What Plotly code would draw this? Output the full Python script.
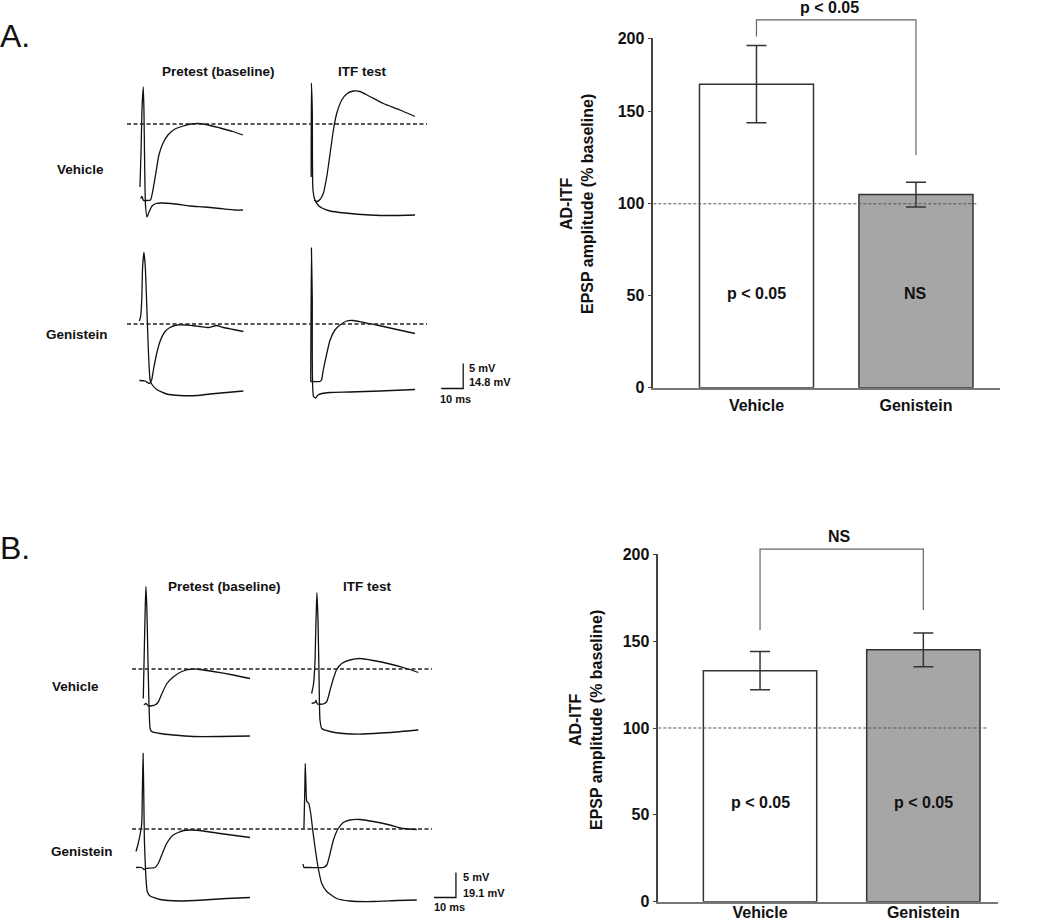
import plotly.graph_objects as go

W, H = 1050, 920
PX_PER_MS = 2.2   # horizontal scale of the traces (10 ms bar = 22 px)
PX_PER_MV = 5.0   # vertical scale of the traces (5 mV bar = 25 px)
FONT = "Liberation Sans, Arial, sans-serif"

# ----------------------------- data -----------------------------
# voltages are in mV relative to the dashed reference line, time in ms
# Panel A - Vehicle - Pretest
a_veh_pre_epsp_t = [1.2, 1.8, 2.5, 3.6, 5.7, 6.8, 8.2, 9.5, 11.4, 13.6, 16.8, 20.5, 24.1, 27.3, 30.9, 37.3, 43.2, 47.7]
a_veh_pre_epsp_v = [-14.9, -14.5, -15.3, -15.3, -15.2, -13.2, -9.6, -6.2, -3.8, -2.2, -1.0, -0.4, 0.0, 0.1, -0.1, -0.8, -1.5, -2.2]
a_veh_pre_spike_t = [0.9, 1.4, 1.8, 2.4, 2.7, 3.0, 3.4, 4.1, 5.0, 6.4, 8.2, 10.9, 16.8, 23.6, 30.5, 37.3, 44.1, 47.7]
a_veh_pre_spike_v = [-12.6, -5.2, 2.8, 7.4, 2.8, -7.2, -16.2, -18.6, -17.6, -16.4, -15.9, -15.8, -16.0, -16.4, -16.6, -16.9, -17.2, -17.2]
# Panel A - Vehicle - ITF test
a_veh_itf_epsp_t = [3.2, 4.5, 5.9, 7.4, 9.0, 10.5, 12.0, 13.5, 15.8, 18.0, 21.0, 24.1, 28.6, 34.7, 42.3, 49.1]
a_veh_itf_epsp_v = [-15.2, -15.5, -15.1, -13.9, -10.5, -5.9, -1.2, 2.1, 4.8, 6.0, 6.6, 6.5, 5.5, 4.1, 2.8, 1.5]
a_veh_itf_spike_t = [1.9, 2.0, 2.4, 2.7, 3.6, 5.0, 6.8, 10.5, 17.3, 28.6, 40.0, 49.1]
a_veh_itf_spike_v = [-10.6, 8.2, 2.8, -13.2, -15.2, -16.2, -16.8, -17.4, -17.8, -18.2, -18.3, -18.2]
# Panel A - Genistein - Pretest
a_gen_pre_epsp_t = [0.6, 3.2, 5.1, 6.2, 7.0, 8.5, 10.0, 12.3, 14.5, 17.6, 22.1, 28.2, 32.0, 35.8, 38.8, 43.3, 47.9]
a_gen_pre_epsp_v = [-11.3, -11.4, -11.9, -11.2, -9.2, -5.9, -3.5, -1.5, -0.7, -0.2, -0.2, -0.5, -0.7, -0.3, -0.7, -1.1, -1.5]
a_gen_pre_spike_t = [0.6, 1.2, 1.7, 2.1, 2.7, 3.3, 4.0, 4.7, 5.5, 6.2, 8.5, 13.0, 19.1, 26.7, 32.7, 40.3, 47.9]
a_gen_pre_spike_v = [0.6, 1.5, 4.8, 11.5, 14.3, 11.5, 3.5, -5.2, -11.2, -12.0, -13.1, -14.0, -14.3, -14.3, -14.0, -13.7, -13.4]
# Panel A - Genistein - ITF test
a_gen_itf_epsp_t = [1.7, 5.9, 6.6, 7.4, 9.0, 10.5, 12.7, 15.0, 18.0, 21.0, 25.6, 31.7, 40.8, 49.1]
a_gen_itf_epsp_v = [-11.5, -11.5, -11.2, -9.2, -5.9, -3.2, -1.2, -0.2, 0.6, 0.7, 0.3, -0.2, -1.1, -1.9]
a_gen_itf_spike_t = [1.7, 2.0, 2.4, 2.9, 3.9, 5.0, 6.8, 10.5, 19.5, 33.2, 49.1]
a_gen_itf_spike_v = [-11.5, 15.2, 4.8, -14.4, -14.8, -14.2, -13.9, -13.7, -13.6, -13.4, -13.1]
# Panel B - Vehicle - Pretest
b_veh_pre_epsp_t = [2.7, 3.6, 4.7, 7.7, 9.2, 10.8, 13.0, 16.0, 19.9, 24.4, 28.2, 34.2, 43.3, 50.9]
b_veh_pre_epsp_v = [-7.2, -6.9, -7.4, -7.2, -6.6, -5.0, -3.0, -1.6, -0.5, 0.0, -0.1, -0.5, -1.2, -1.9]
b_veh_pre_spike_t = [2.4, 2.9, 3.3, 3.6, 4.0, 4.4, 4.9, 5.5, 6.2, 10.0, 16.0, 25.1, 37.3, 50.9]
b_veh_pre_spike_v = [-5.9, 4.5, 12.5, 16.5, 12.5, 4.5, -5.5, -11.9, -12.5, -12.9, -13.2, -13.5, -13.5, -13.4]
# Panel B - Vehicle - ITF test
b_veh_itf_epsp_t = [2.1, 3.6, 4.1, 4.7, 7.4, 9.0, 10.5, 12.0, 13.5, 15.8, 19.5, 24.1, 30.1, 37.7, 45.3, 50.6]
b_veh_itf_epsp_v = [-6.9, -6.7, -6.3, -7.0, -7.0, -6.5, -4.2, -1.9, -0.1, 1.1, 1.8, 2.1, 1.7, 1.0, 0.1, -0.7]
b_veh_itf_spike_t = [2.1, 2.9, 3.6, 4.1, 4.5, 5.0, 5.5, 5.9, 6.7, 10.5, 16.5, 25.6, 37.7, 50.6]
b_veh_itf_spike_v = [-4.9, -3.2, 1.1, 9.8, 15.3, 9.8, -2.2, -10.2, -11.9, -12.5, -12.9, -13.0, -12.7, -12.2]
# Panel B - Genistein - Pretest
b_gen_pre_epsp_t = [-0.9, 1.7, 2.7, 3.6, 7.7, 9.2, 10.8, 13.0, 16.0, 20.6, 24.4, 29.7, 37.3, 50.9]
b_gen_pre_epsp_v = [-7.7, -7.7, -8.1, -7.9, -7.7, -6.9, -5.2, -2.9, -1.2, -0.3, -0.2, -0.4, -0.9, -1.7]
b_gen_pre_spike_t = [-0.9, 0.1, 1.2, 1.7, 2.0, 2.3, 2.6, 2.9, 3.5, 4.2, 5.5, 10.0, 19.1, 29.7, 40.3, 50.9]
b_gen_pre_spike_v = [-4.5, -2.9, -0.5, 1.1, 7.8, 15.1, 7.8, -2.2, -8.9, -12.5, -13.4, -14.1, -14.4, -14.2, -13.9, -13.7]
# Panel B - Genistein - ITF test
b_gen_itf_epsp_t = [-1.8, -1.4, -0.9, 1.4, 7.4, 9.0, 10.5, 12.0, 14.2, 16.5, 19.5, 24.1, 30.1, 37.7, 43.8, 49.9]
b_gen_itf_epsp_v = [-7.0, -7.7, -7.7, -7.7, -7.7, -7.2, -4.9, -2.2, 0.1, 1.3, 1.8, 1.9, 1.5, 0.8, 0.1, -0.1]
b_gen_itf_spike_t = [-1.4, -1.0, -0.8, -0.5, -0.1, 0.8, 1.7, 2.6, 3.6, 5.1, 6.7, 9.0, 13.5, 19.5, 30.1, 40.8, 49.9]
b_gen_itf_spike_v = [0.1, 7.8, 13.1, 9.1, 5.5, 5.1, 3.1, -0.2, -3.5, -7.8, -10.9, -12.5, -13.9, -14.4, -14.5, -14.3, -14.2]

# scale bars
scale_ms = 10
scale_mv = 5
a_scale_labels = ["5 mV", "14.8 mV", "10 ms"]
b_scale_labels = ["5 mV", "19.1 mV", "10 ms"]

# bar charts
bar_categories = ["Vehicle", "Genistein"]
a_bar_means = [165, 105]
a_bar_sem = [21, 6.7]
b_bar_means = [133, 145]
b_bar_sem = [11, 9.7]
a_bar_inner_labels = ["p < 0.05", "NS"]
b_bar_inner_labels = ["p < 0.05", "p < 0.05"]
a_bracket_label = "p < 0.05"
b_bracket_label = "NS"
a_ytick_vals = [0, 50, 100, 150, 190]
a_ytick_text = ["0", "50", "100", "150", "200"]
b_ytick_vals = [0, 50, 100, 150, 200]
b_ytick_text = ["0", "50", "100", "150", "200"]
baseline_pct = 100

# ----------------------------- layout helpers -----------------------------
def pxx(x):
    return x / W

def pxy(y):
    return 1 - y / H

fig = go.Figure()
layout = dict(
    width=W, height=H, margin=dict(l=0, r=0, t=0, b=0, autoexpand=False),
    paper_bgcolor="white", plot_bgcolor="rgba(0,0,0,0)", showlegend=False,
    font=dict(family=FONT, color="#111"),
)
shapes = []
annotations = []

def axn(i):
    return "" if i == 1 else str(i)

# cells: (id, x origin px, dashed-line px, t range, v range, epsp, spike)
cells = [
    (1, 138, 124, (-3, 55), (-20, 10), (a_veh_pre_epsp_t, a_veh_pre_epsp_v), (a_veh_pre_spike_t, a_veh_pre_spike_v)),
    (2, 307, 124, (-3, 80), (-20, 10), (a_veh_itf_epsp_t, a_veh_itf_epsp_v), (a_veh_itf_spike_t, a_veh_itf_spike_v)),
    (3, 138, 324, (-3, 55), (-16, 17), (a_gen_pre_epsp_t, a_gen_pre_epsp_v), (a_gen_pre_spike_t, a_gen_pre_spike_v)),
    (4, 307, 324, (-3, 80), (-16, 17), (a_gen_itf_epsp_t, a_gen_itf_epsp_v), (a_gen_itf_spike_t, a_gen_itf_spike_v)),
    (5, 138, 669, (-3, 55), (-15, 18), (b_veh_pre_epsp_t, b_veh_pre_epsp_v), (b_veh_pre_spike_t, b_veh_pre_spike_v)),
    (6, 307, 669, (-3, 80), (-15, 18), (b_veh_itf_epsp_t, b_veh_itf_epsp_v), (b_veh_itf_spike_t, b_veh_itf_spike_v)),
    (7, 138, 829, (-3, 55), (-17, 17), (b_gen_pre_epsp_t, b_gen_pre_epsp_v), (b_gen_pre_spike_t, b_gen_pre_spike_v)),
    (8, 307, 829, (-3, 80), (-17, 17), (b_gen_itf_epsp_t, b_gen_itf_epsp_v), (b_gen_itf_spike_t, b_gen_itf_spike_v)),
]

trace_line = dict(color="#111", width=1.3, shape="spline", smoothing=0.5)
for cid, x0, dash, tr, vr, epsp, spike in cells:
    n = axn(cid)
    layout["xaxis" + n] = dict(
        domain=[pxx(x0 + tr[0] * PX_PER_MS), pxx(x0 + tr[1] * PX_PER_MS)],
        range=list(tr), visible=False, fixedrange=True, anchor="y" + n, automargin=False)
    layout["yaxis" + n] = dict(
        domain=[pxy(dash - vr[0] * PX_PER_MV), pxy(dash - vr[1] * PX_PER_MV)],
        range=list(vr), visible=False, fixedrange=True, anchor="x" + n, automargin=False)
    for t, v in (spike, epsp):
        fig.add_trace(go.Scatter(x=t, y=v, mode="lines", line=trace_line,
                                 xaxis="x" + n, yaxis="y" + n, hoverinfo="skip"))

# dashed reference lines across both columns (y = 0 mV of the row)
for cid, left, right in [(1, 127, 427), (3, 127, 427), (5, 132, 432), (7, 132, 432)]:
    vr = cells[cid - 1][4]
    yf = (0 - vr[0]) / (vr[1] - vr[0])
    shapes.append(dict(type="line", xref="paper", yref="y%s domain" % axn(cid),
                       x0=pxx(left), x1=pxx(right), y0=yf, y1=yf,
                       line=dict(color="#222", width=1.3, dash="4px,2.5px")))

# scale bars (drawn in trace units)
def scale_bar(cid, corner_t, corner_v, labels, lab_pos):
    n = axn(cid)
    fig.add_trace(go.Scatter(
        x=[corner_t - scale_ms, corner_t, corner_t],
        y=[corner_v, corner_v, corner_v + scale_mv],
        mode="lines", line=dict(color="#111", width=1.3),
        xaxis="x" + n, yaxis="y" + n, hoverinfo="skip"))
    for text, (tt, vv) in zip(labels, lab_pos):
        annotations.append(dict(text="<b>%s</b>" % text, x=tt, y=vv, xref="x" + n, yref="y" + n,
                                showarrow=False, xanchor="left", yanchor="middle",
                                font=dict(size=11, family=FONT, color="#111")))

scale_bar(4, 71.0, -12.9, a_scale_labels, [(72.6, -8.8), (72.6, -11.6), (59.5, -14.9)])
scale_bar(8, 67.7, -13.7, b_scale_labels, [(69.8, -9.5), (69.8, -12.7), (56.8, -15.6)])

# text labels of the trace panels
def txt(s, x, y, size, bold=True, xanchor="center"):
    annotations.append(dict(text=("<b>%s</b>" % s) if bold else s, x=pxx(x), y=pxy(y),
                            xref="paper", yref="paper", showarrow=False,
                            xanchor=xanchor, yanchor="middle",
                            font=dict(size=size, family=FONT, color="#111")))

txt("A.", -2, 36, 32, bold=False, xanchor="left")
txt("B.", -2, 548, 32, bold=False, xanchor="left")
txt("Pretest (baseline)", 218, 71, 13.5)
txt("ITF test", 362, 71, 13.5)
txt("Pretest (baseline)", 224, 586, 13.5)
txt("ITF test", 367.5, 586, 13.5)
txt("Vehicle", 80, 169, 13.5)
txt("Genistein", 77, 334, 13.5)
txt("Vehicle", 75, 686, 13.5)
txt("Genistein", 82, 851, 13.5)

# ----------------------------- bar charts -----------------------------
def bar_panel(aid, xdom_px, xr, ydom_px, yr, means, sems, width, tickvals, ticktext,
              inner_labels, inner_y, dash_end, bracket, bracket_label, label_pos, ytitle_px,
              standoff):
    n = axn(aid)
    layout["xaxis" + n] = dict(
        domain=[pxx(xdom_px[0]), pxx(xdom_px[1])], range=list(xr), fixedrange=True,
        anchor="y" + n, showgrid=False, zeroline=False, showline=True, linecolor="#777",
        linewidth=1.5, tickvals=[0, 1], ticktext=bar_categories, ticks="", automargin=False,
        ticklabelstandoff=standoff, tickfont=dict(size=16, family=FONT, color="#111", weight="bold"))
    layout["yaxis" + n] = dict(
        domain=[pxy(ydom_px[0]), pxy(ydom_px[1])], range=list(yr), fixedrange=True,
        anchor="x" + n, showgrid=False, zeroline=False, showline=True, linecolor="#444",
        linewidth=1.5, tickvals=tickvals, ticktext=ticktext, ticks="outside", ticklen=4,
        tickcolor="#444", tickwidth=1.2, automargin=False,
        tickfont=dict(size=16, family=FONT, color="#111", weight="bold"))
    fig.add_trace(go.Bar(
        x=[0, 1], y=means, width=width, xaxis="x" + n, yaxis="y" + n,
        marker=dict(color=["white", "#a6a6a6"], line=dict(color="#333", width=1.5)),
        error_y=dict(type="data", array=sems, visible=True, color="#333", thickness=1.5, width=10),
        hoverinfo="skip"))
    fig.add_trace(go.Scatter(
        x=[xr[0], dash_end], y=[baseline_pct, baseline_pct], mode="lines",
        line=dict(color="#555", width=1, dash="3px,2px"),
        xaxis="x" + n, yaxis="y" + n, hoverinfo="skip"))
    for i, lab in enumerate(inner_labels):
        annotations.append(dict(text="<b>%s</b>" % lab, x=i, y=inner_y, xref="x" + n, yref="y" + n,
                                showarrow=False, xanchor="center", yanchor="middle",
                                font=dict(size=16, family=FONT, color="#111")))
    # significance bracket in axis-domain fractions (may lie above the axis top)
    def fx(v):
        return (v - xr[0]) / (xr[1] - xr[0])
    def fy(v):
        return (v - yr[0]) / (yr[1] - yr[0])
    top, left_low, right_low = bracket
    pts = [(0, left_low), (0, top), (1, top), (1, right_low)]
    path = "M " + " L ".join("%f,%f" % (fx(a), fy(b)) for a, b in pts)
    shapes.append(dict(type="path", path=path, xref="x%s domain" % n, yref="y%s domain" % n,
                       line=dict(color="#666", width=1.2)))
    annotations.append(dict(text="<b>%s</b>" % bracket_label, x=fx(label_pos[0]), y=fy(label_pos[1]),
                            xref="x%s domain" % n, yref="y%s domain" % n, showarrow=False,
                            xanchor="center", yanchor="middle",
                            font=dict(size=16, family=FONT, color="#111")))
    annotations.append(dict(text="<b>AD-ITF</b><br><b>EPSP amplitude (% baseline)</b>",
                            x=pxx(ytitle_px[0]), y=pxy(ytitle_px[1]), xref="paper", yref="paper",
                            showarrow=False, textangle=-90, xanchor="center", yanchor="middle",
                            font=dict(size=16, family=FONT, color="#111")))

bar_panel(9, (653.3, 1000), (-0.647, 1.527), (387.7, 37.9), (0, 190.2),
          a_bar_means, a_bar_sem, 0.715, a_ytick_vals, a_ytick_text,
          a_bar_inner_labels, 51, 1.39, (200, 191, 126.5), a_bracket_label, (0.46, 207),
          (577, 204), 2)
bar_panel(10, (658.3, 998.3), (-0.623, 1.459), (901.7, 554.3), (0, 200),
          b_bar_means, b_bar_sem, 0.694, b_ytick_vals, b_ytick_text,
          b_bar_inner_labels, 57, 1.39, (203, 156.4, 167.9), b_bracket_label, (0.486, 210.5),
          (586, 720), -5)

layout["shapes"] = shapes
layout["annotations"] = annotations
fig.update_layout(**layout)
fig.write_html("out.html", config={"displayModeBar": False},
               post_script="document.body.style.margin='0px';")
